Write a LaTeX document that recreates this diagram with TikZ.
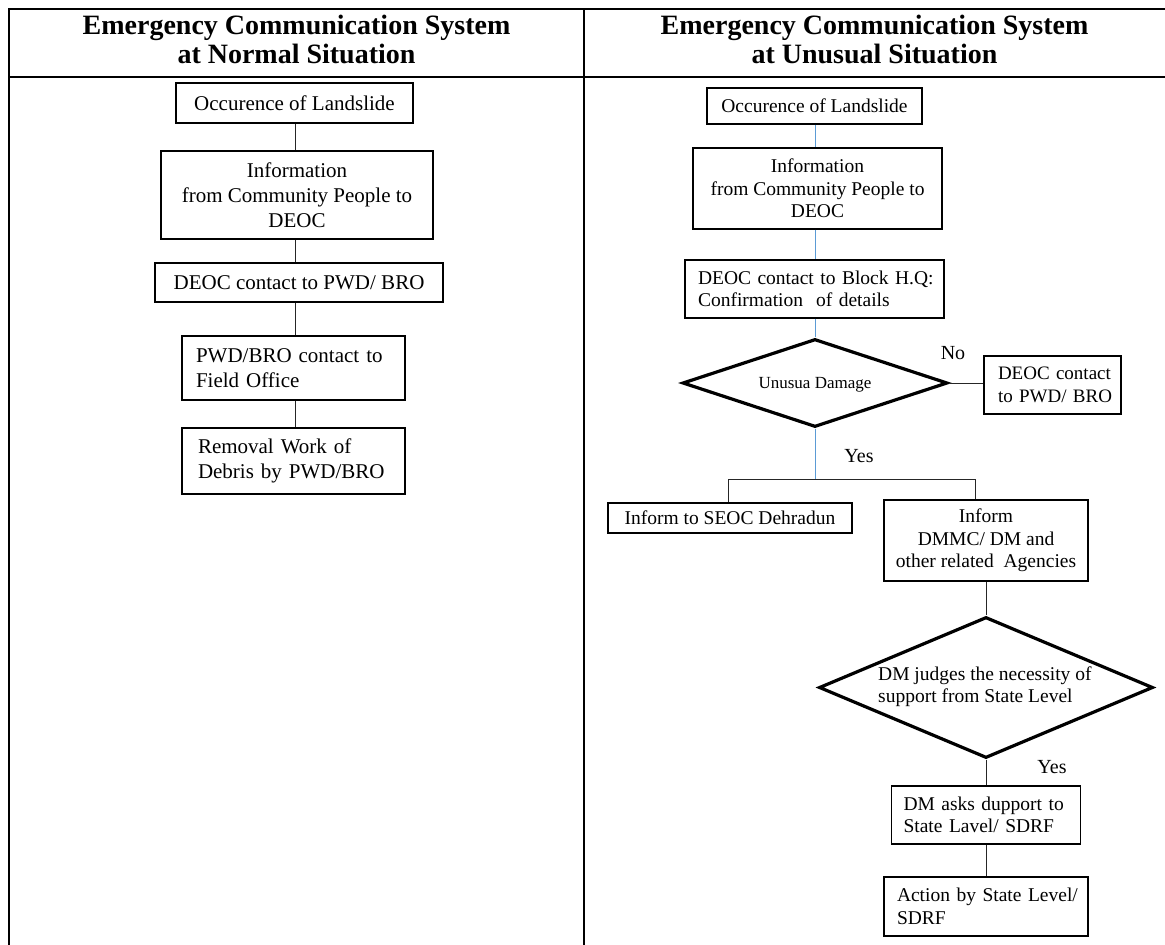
\documentclass[tikz,border=0pt]{standalone}
\usepackage{fontspec}
\setmainfont{Liberation Serif}
\usetikzlibrary{shapes.geometric}
\definecolor{lineblue}{RGB}{91,155,213}
\begin{document}
\begin{tikzpicture}[x=1pt,y=-1pt,
  box/.style={draw=black, line width=1.2pt, inner sep=0pt, align=center},
  lbox/.style={box, align=left},
  lfont/.style={font=\fontsize{21}{25}\selectfont},
  rfont/.style={font=\fontsize{19.5}{22.5}\selectfont},
  dia/.style={draw=black, diamond, line width=3.2pt, inner sep=0pt},
  conn/.style={draw=black!85, line width=1pt},
  bconn/.style={draw=lineblue, line width=1pt},
  tabline/.style={line width=2.5pt, line cap=rect},
  head/.style={font=\fontsize{28}{29}\selectfont\bfseries, align=center, inner sep=0pt},
  lab/.style={font=\fontsize{20}{24}\selectfont, inner sep=0pt}
]
\useasboundingbox (0,0) rectangle (1165,945);
\fill[white] (0,0) rectangle (1165,945);

% table
\draw[tabline] (9,9) -- (1166,9);
\draw[tabline] (9,77) -- (1166,77);
\draw[tabline] (9,9) -- (9,946);
\draw[tabline] (584,9) -- (584,946);

\node[head] (hl) at (296.5,39) {Emergency Communication System\\at Normal Situation};
\node[head] (hr) at (874.5,39) {Emergency Communication System\\at Unusual Situation};

% left column
\node[box, lfont, minimum width=237, minimum height=40] (L1) at (294.5,103) {Occurence of Landslide};
\node[box, lfont, minimum width=272, minimum height=88] (L2) at (297,195) {Information\\from Community People to\\DEOC};
\node[box, lfont, minimum width=288, minimum height=39] (L3) at (299,282.5) {DEOC contact to PWD/ BRO};
\node[lbox, lfont, text width=195, inner xsep=14, minimum height=64] (L4) at (293.5,368) {\mbox{PWD/BRO contact to}\\\mbox{Field Office}};
\node[lbox, lfont, text width=191, inner xsep=16, minimum height=66] (L5) at (293.5,461) {\mbox{Removal Work of}\\\mbox{Debris by PWD/BRO}};

\coordinate (cl) at (295,0);
\draw[conn] (cl |- L1.south) -- (cl |- L2.north);
\draw[conn] (cl |- L2.south) -- (cl |- L3.north);
\draw[conn] (cl |- L3.south) -- (cl |- L4.north);
\draw[conn] (cl |- L4.south) -- (cl |- L5.north);

% right column
\node[box, rfont, minimum width=215, minimum height=36] (R1) at (814.5,106) {Occurence of Landslide};
\node[box, rfont, minimum width=249, minimum height=81] (R2) at (817.5,188.5) {Information\\from Community People to\\DEOC};
\node[lbox, rfont, text width=233, inner xsep=13, minimum height=58] (R3) at (814.5,289) {\mbox{DEOC contact to Block H.Q:}\\\mbox{Confirmation\ \ of details}};
\node[dia, minimum width=265, minimum height=88] (D1) at (815,383) {};
\node[inner sep=0pt, font=\fontsize{17}{20}\selectfont] (D1t) at (815,385) {Unusua Damage};
\node[lab] (no) at (953,353) {No};
\node[lbox, font=\fontsize{19}{22.5}\selectfont, text width=109, inner xsep=14, minimum height=58] (DB) at (1052.5,385) {\mbox{DEOC contact}\\\mbox{to PWD/ BRO}};

\coordinate (cr) at (815,0);
\draw[bconn] (cr |- R1.south) -- (cr |- R2.north);
\draw[bconn] (cr |- R2.south) -- (cr |- R3.north);
\draw[bconn] (cr |- R3.south) -- (D1.north);
\draw[conn] (D1.east) -- (DB.west |- D1.east);

\coordinate (jm) at (815,479);
\coordinate (jl) at (728,479);
\coordinate (jr) at (975,479);
\draw[bconn] (D1.south) -- (jm);
\node[lab] (yes1) at (859,456) {Yes};

\node[box, rfont, minimum width=244, minimum height=30] (SEOC) at (730,518) {Inform to SEOC Dehradun};
\node[box, rfont, minimum width=204, minimum height=81] (DMMC) at (986,540.5) {Inform\\DMMC/ DM and\\other related\ \ Agencies};
\draw[conn] (jl) -- (jr);
\draw[conn] (jl) -- (jl |- SEOC.north);
\draw[conn] (jr) -- (jr |- DMMC.north);

\node[dia, minimum width=334, minimum height=141] (D2) at (986,687.5) {};
\node[lab, rfont, anchor=west, align=left] (D2t) at (878,686.5) {DM judges the necessity of\\support from State Level};
\draw[conn] (DMMC.south) -- (D2.north);
\node[lab] (yes2) at (1052,767) {Yes};

\node[lbox, rfont, text width=165, inner xsep=12, minimum height=58] (DA) at (986,815) {\mbox{DM asks dupport to}\\\mbox{State Lavel/ SDRF}};
\node[lbox, rfont, text width=178, inner xsep=13, minimum height=59] (ACT) at (986,906.5) {\mbox{Action by State Level/}\\\mbox{SDRF}};
\draw[conn] (D2.south) -- (DA.north);
\draw[conn] (DA.south) -- (ACT.north);
\end{tikzpicture}
\end{document}
